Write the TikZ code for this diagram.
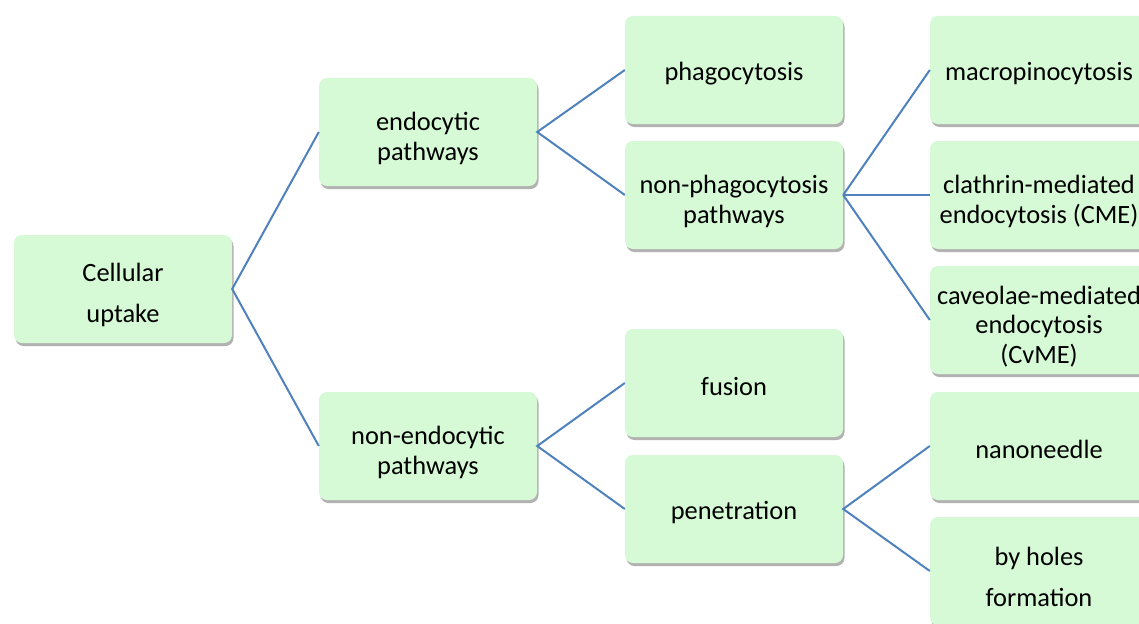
\documentclass[tikz,border=0pt]{standalone}
\usepackage{fontspec}
\setmainfont{Carlito}
\usetikzlibrary{shadows}
\definecolor{boxgreen}{RGB}{213,250,213}
\definecolor{linkblue}{RGB}{79,129,189}
\tikzset{
  box/.style={fill=boxgreen, rounded corners=8pt, minimum width=218pt, minimum height=108pt,
    align=center, font=\fontsize{26.4}{29.5}\selectfont, text height=25.5pt,
    drop shadow={shadow xshift=1.5pt, shadow yshift=-3pt, opacity=0.3, fill=black}},
  twoline/.style={box, text height=61pt},
  threeline/.style={box, text height=90pt},
  widebox/.style={box, font=\fontsize{26.4}{40.5}\selectfont, text height=71pt},
  link/.style={draw=linkblue, line width=2pt}
}
\begin{document}
\begin{tikzpicture}[x=1pt,y=-1pt]
\useasboundingbox (0,0) rectangle (1139,623);
\clip (0,0) rectangle (1139,623);

\node[widebox] (cell) at (123,289) {Cellular\\uptake};

\node[twoline] (endo) at (428,132) {endocytic\\pathways};
\node[twoline] (nonendo) at (428,446) {non-endocytic\\pathways};

\node[box] (phago) at (734,70) {phagocytosis};
\node[twoline] (nonphago) at (734,195) {non-phagocytosis\\pathways};
\node[box] (fusion) at (734,383) {fusion};
\node[box] (pene) at (734,509) {penetration};

\node[box] (macro) at (1039,70) {macropinocytosis};
\node[twoline] (cme) at (1039,195) {clathrin-mediated\\endocytosis (CME)};
\node[threeline] (cvme) at (1039,320) {caveolae-mediated\\endocytosis\\(CvME)};
\node[box] (needle) at (1039,446) {nanoneedle};
\node[widebox] (holes) at (1039,571) {by holes\\formation};

\draw[link] (endo.west) -- (cell.east) -- (nonendo.west);
\draw[link] (phago.west) -- (endo.east) -- (nonphago.west);
\draw[link] (fusion.west) -- (nonendo.east) -- (pene.west);
\draw[link] (nonphago.east) -- (macro.west);
\draw[link] (nonphago.east) -- (cme.west);
\draw[link] (nonphago.east) -- (cvme.west);
\draw[link] (needle.west) -- (pene.east) -- (holes.west);
\end{tikzpicture}
\end{document}
